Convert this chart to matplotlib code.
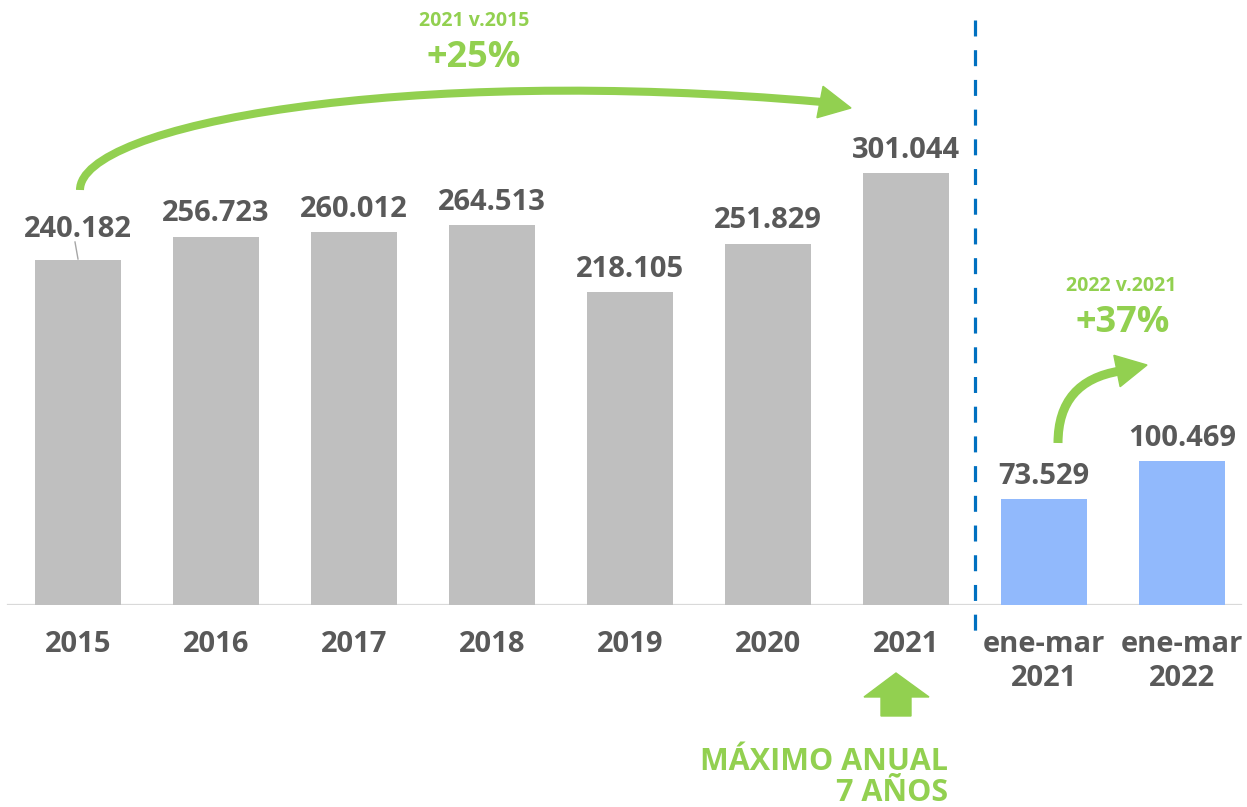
import matplotlib
matplotlib.use("Agg")
import matplotlib.pyplot as plt
from matplotlib.patches import Polygon, PathPatch
from matplotlib.path import Path
import numpy as np

# ---------------- data ----------------
categories = ["2015", "2016", "2017", "2018", "2019", "2020", "2021",
              "ene-mar\n2021", "ene-mar\n2022"]
values = [240182, 256723, 260012, 264513, 218105, 251829, 301044, 73529, 100469]
value_labels = ["240.182", "256.723", "260.012", "264.513", "218.105",
                "251.829", "301.044", "73.529", "100.469"]
n_annual = 7

# ---------------- style ----------------
GRAY = "#BFBFBF"
BLUE = "#91B9FC"
GREEN = "#92D050"
TEXT = "#595959"
DASH = "#0070C0"
plt.rcParams["font.family"] = ["Open Sans", "DejaVu Sans"]
plt.rcParams["font.weight"] = "bold"

W, H = 1247, 807
BASE = 605  # baseline pixel row from top
fig = plt.figure(figsize=(W / 100, H / 100), dpi=100)
ax = fig.add_axes([0, (H - BASE) / H, 1, BASE / H])
ax.set_xlim(-0.565, 8.471)
ax.set_ylim(0, 421600)

colors = [GRAY] * n_annual + [BLUE] * (len(values) - n_annual)
x = np.arange(len(values))
bars = ax.bar(x, values, width=0.623, color=colors, zorder=2)

# axis styling
for s in ax.spines.values():
    s.set_visible(False)
ax.set_yticks([])
ax.set_xticks(x)
ax.set_xticklabels(categories, fontsize=21, fontweight="bold", color=TEXT,
                   linespacing=1.25)
ax.tick_params(axis="x", length=0, pad=18)
ax.axhline(0, xmin=0.0064, xmax=0.995, color="#D9D9D9", lw=1.6, zorder=1)

inv = ax.transData.inverted()


def P(px, py):
    """pixel (from top-left) -> data coordinates"""
    return inv.transform((px, H - py))


# value labels
for i, (v, lab) in enumerate(zip(values, value_labels)):
    if i == 0:
        ax.annotate(lab, (i, v), xytext=(0, 17), textcoords="offset points",
                    ha="center", va="baseline", fontsize=21, fontweight="bold",
                    color=TEXT)
        a = P(75, 242)
        b = P(78, 259)
        ax.plot([a[0], b[0]], [a[1], b[1]], color="#A6A6A6", lw=1, zorder=3)
    else:
        ax.annotate(lab, (i, v), xytext=(0, 11), textcoords="offset points",
                    ha="center", va="baseline", fontsize=21, fontweight="bold",
                    color=TEXT)

# dashed separator
t = P(975, 20)
bt = P(975, 640)
ax.plot([6.5, 6.5], [t[1], bt[1]], color=DASH, lw=2.3,
        linestyle=(0, (5, 4.3)), clip_on=False, zorder=3)


def arrow_head(tip, base, half_w):
    tip = np.array(tip, float)
    base = np.array(base, float)
    d = tip - base
    d /= np.hypot(*d)
    nrm = np.array([-d[1], d[0]])
    pts = [tip, base + nrm * half_w, base - nrm * half_w]
    return Polygon([P(*p) for p in pts], closed=True, color=GREEN,
                   clip_on=False, zorder=4)


# big curved arrow 2015 -> 2021
ctrl = [(80, 190), (80, 125), (400, 65), (822, 102)]
path = Path([P(*c) for c in ctrl],
            [Path.MOVETO, Path.CURVE4, Path.CURVE4, Path.CURVE4])
ax.add_patch(PathPatch(path, fill=False, edgecolor=GREEN, lw=5.8,
                       capstyle="butt", clip_on=False, zorder=4))
ax.add_patch(arrow_head((851, 108), (820, 102), 16))

# small curved arrow ene-mar 2021 -> 2022
ctrl2 = [(1058, 443), (1058, 381), (1120, 371)]
path2 = Path([P(*c) for c in ctrl2], [Path.MOVETO, Path.CURVE3, Path.CURVE3])
ax.add_patch(PathPatch(path2, fill=False, edgecolor=GREEN, lw=6.5,
                       capstyle="butt", clip_on=False, zorder=4))
ax.add_patch(arrow_head((1147, 365), (1117, 371), 16))

# block up arrow under 2021
blk = [(896, 673), (929, 697), (911, 697), (911, 716), (881, 716),
       (881, 697), (864, 697)]
ax.add_patch(Polygon([P(*p) for p in blk], closed=True, color=GREEN,
                     clip_on=False, zorder=4))

# green texts
def gtext(px, py, s, size, **kw):
    xx, yy = P(px, py)
    ax.text(xx, yy, s, fontsize=size, fontweight="bold", color=GREEN,
            clip_on=False, **kw)


gtext(474, 26, "2021 v.2015", 14, ha="center", va="baseline")
gtext(474, 67, "+25%", 26, ha="center", va="baseline")
gtext(1121, 291, "2022 v.2021", 14, ha="center", va="baseline")
gtext(1123, 332, "+37%", 26, ha="center", va="baseline")
gtext(948, 770, "MÁXIMO ANUAL", 22, ha="right", va="baseline")
gtext(948, 801, "7 AÑOS", 22, ha="right", va="baseline")

fig.savefig("out.png", dpi=100)
